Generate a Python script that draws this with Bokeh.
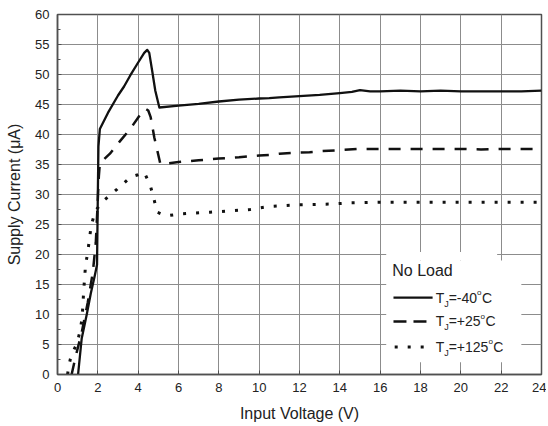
from bokeh.plotting import figure
from bokeh.models import Label, BoxAnnotation, SingleIntervalTicker, Range1d
from bokeh.embed import file_html
from bokeh.resources import INLINE

# ---------------- data ----------------
x_m40 = [1.02, 1.2, 1.45, 1.65, 1.85, 1.96, 2.0, 2.03, 2.1, 2.5, 3.0, 3.3, 3.6, 4.0, 4.3, 4.45, 4.55, 4.7,
         4.85, 5.05, 6, 7, 8, 9, 10, 10.5, 11, 12, 13, 14, 14.6, 15.0, 15.5, 16, 17, 18, 19, 20, 21, 22, 23, 24]
y_m40 = [0, 6, 10, 13.5, 16.5, 18.3, 30, 38, 40.9, 43.6, 46.5, 48.0, 49.8, 52.0, 53.6, 54.1, 53.6, 50.5,
         47.3, 44.5, 44.8, 45.1, 45.5, 45.8, 46.0, 46.05, 46.2, 46.4, 46.6, 46.9, 47.1, 47.4, 47.2, 47.2, 47.3,
         47.2, 47.3, 47.2, 47.2, 47.2, 47.2, 47.3]

x_p25 = [0.7, 0.9, 1.2, 1.5, 1.75, 1.9, 1.97, 2.05, 2.1, 2.6, 3.1, 3.6, 4.1, 4.36, 4.5, 4.62, 4.8, 4.95,
         5.1, 5.5, 6, 7, 8, 9, 10, 10.5, 11, 12, 12.5, 13, 14, 15, 16, 17, 18, 19, 20, 21, 22, 23, 24]
y_p25 = [0, 3, 7, 12, 17, 22, 27, 33, 35.2, 36.8, 38.9, 40.9, 43.3, 44.3, 44.0, 42.9, 39.5, 37.3,
         35.1, 35.2, 35.4, 35.7, 36.0, 36.2, 36.5, 36.6, 36.8, 37.0, 37.05, 37.2, 37.4, 37.6, 37.6, 37.6,
         37.6, 37.6, 37.6, 37.5, 37.6, 37.6, 37.6]

x_p125 = [0.5, 0.56, 0.64, 0.8, 0.97, 1.1, 1.22, 1.3, 1.39, 1.5, 1.67, 1.88, 2.3, 2.96, 3.62, 4.0, 4.3,
          4.6, 4.78, 4.94, 5.2, 5.52, 6.18, 7.57, 9.55, 10.5, 12, 13.5, 14.5, 16, 18, 20, 22, 24]
y_p125 = [0, 1.4, 2.6, 4.0, 5.2, 7.0, 9.3, 14.0, 18.2, 20.4, 24.8, 27.3, 29.0, 30.9, 32.9, 33.3, 33.7,
          31.5, 29.3, 27.05, 26.7, 26.5, 26.8, 27.05, 27.5, 28.0, 28.3, 28.4, 28.6, 28.7, 28.7, 28.7, 28.7, 28.7]

x_ticks_step = 2
y_ticks_step = 5
x_label = "Input Voltage (V)"
y_label = "Supply Current (\u03bcA)"
legend_title = "No Load"
legend_temps = ["-40", "+25", "+125"]

# ---------------- styling ----------------
FONT = "Liberation Sans"
INK = "#111111"
GRID = "#8c8c8c"
FRAME = "#505050"

p = figure(x_range=Range1d(0, 24), y_range=Range1d(0, 60),
           frame_width=484, frame_height=360,
           min_border_left=57, min_border_right=5, min_border_top=14, min_border_bottom=46,
           output_backend="svg", toolbar_location=None)
p.background_fill_color = "white"
p.border_fill_color = "white"
p.outline_line_color = FRAME
p.outline_line_width = 1.5

xt = SingleIntervalTicker(interval=x_ticks_step, num_minor_ticks=0)
yt = SingleIntervalTicker(interval=y_ticks_step, num_minor_ticks=2)
p.xaxis.ticker = xt
p.yaxis.ticker = yt
p.xgrid.ticker = xt
p.ygrid.ticker = yt

for g in (p.xgrid, p.ygrid):
    g.grid_line_color = GRID
    g.grid_line_width = 1

for ax in (p.xaxis, p.yaxis):
    ax.axis_line_color = FRAME
    ax.axis_line_width = 1.5
    ax.major_tick_in = 4
    ax.major_tick_out = 0
    ax.major_tick_line_color = FRAME
    ax.minor_tick_in = 3
    ax.minor_tick_out = 0
    ax.minor_tick_line_color = FRAME
    ax.major_label_text_font = FONT
    ax.major_label_text_font_size = "13px"
    ax.major_label_text_color = "#222222"
    ax.axis_label_text_font = FONT
    ax.axis_label_text_font_size = "16px"
    ax.axis_label_text_font_style = "normal"
    ax.axis_label_text_color = "#222222"

p.xaxis.axis_label = x_label
p.yaxis.axis_label = y_label
p.xaxis.major_label_standoff = 8
p.yaxis.major_label_standoff = 8
p.xaxis.axis_label_standoff = 10
p.yaxis.axis_label_standoff = 9

# ---------------- legend background (white mask over the grid) ----------------
p.add_layout(BoxAnnotation(left=16.3, right=21.8, bottom=19.0, top=20.4, level="underlay",
                           fill_color="white", fill_alpha=1, line_alpha=0))
p.add_layout(BoxAnnotation(left=16.3, right=23.0, bottom=2.05, top=19.0, level="underlay",
                           fill_color="white", fill_alpha=1, line_alpha=0))

# ---------------- curves ----------------
p.line(x_m40, y_m40, line_color=INK, line_width=2.3, line_join="round")
p.line(x_p25, y_p25, line_color=INK, line_width=2.5, line_dash="12 10")
p.line(x_p125, y_p125, line_color=INK, line_width=3, line_dash="3 10")

# ---------------- legend ----------------
p.add_layout(Label(x=16.6, y=17.3, text=legend_title, text_font=FONT, text_font_size="16px",
                   text_color="#222222", text_baseline="middle", text_align="left"))

leg_y = [12.8, 8.85, 4.6]
p.line([16.66, 18.6], [leg_y[0]] * 2, line_color=INK, line_width=2.3)
p.line([16.66, 18.35], [leg_y[1]] * 2, line_color=INK, line_width=2.5, line_dash="13 7")
p.line([16.72, 18.4], [leg_y[2]] * 2, line_color=INK, line_width=3, line_dash="3 10")

# Arial advance widths (per em)
W = {"T": 0.611, "J": 0.5, "=": 0.584, "-": 0.333, "+": 0.584, "o": 0.556, "C": 0.722}
for d in "0123456789":
    W[d] = 0.556


def tw(s, size):
    return sum(W[c] for c in s) * size


leg_tx = 18.75
for ty, temp in zip(leg_y, legend_temps):
    pieces = [("T", 14, 0), ("J", 9, -6), ("=" + temp, 14, 0), ("o", 8, 5), ("C", 14, 0)]
    off = 0.0
    for s, size, dy in pieces:
        p.add_layout(Label(x=leg_tx, y=ty, x_offset=off, y_offset=dy, text=s, text_font=FONT,
                           text_font_size=f"{size}px", text_color="#222222",
                           text_baseline="middle", text_align="left"))
        off += tw(s, size) + (0.5 if s == "o" else 0)

open("out.html", "w").write(file_html(p, INLINE))
